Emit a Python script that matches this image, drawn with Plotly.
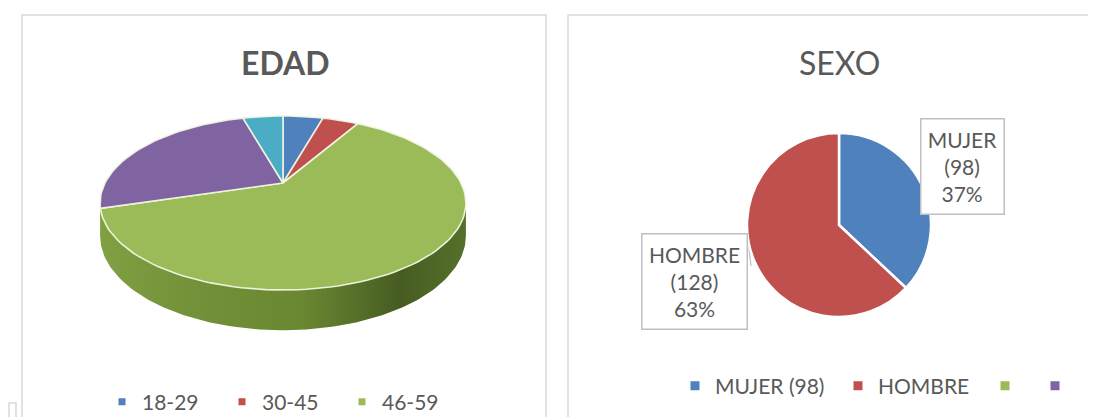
import numpy as np
import plotly.graph_objects as go

# ---------------- data ----------------
EDAD_LABELS = ["18-29", "30-45", "46-59", "60-74", "75+"]
EDAD_COUNTS = [10, 9, 140, 57, 10]
EDAD_COLORS = ["#4F81BD", "#C0504D", "#9BBB59", "#8064A2", "#4BACC6"]
EDAD_LEGEND_SHOWN = ["18-29", "30-45", "46-59"]

SEXO_LABELS = ["MUJER", "HOMBRE"]
SEXO_COUNTS = [98, 128]
SEXO_PCT = [37, 63]
SEXO_COLORS = ["#4F81BD", "#C0504D"]
SEXO_LEGEND = ["MUJER (98)", "HOMBRE", "", ""]
SEXO_LEGEND_COLORS = ["#4F81BD", "#C0504D", "#9BBB59", "#8064A2"]

# page body has an 8px margin: the figure is sized to fill the rest of the window
OFF = 8
SW, SH = 1096, 417               # window (screen) size
W, H = SW - OFF, SH - OFF        # figure size
FONT = "Lato"
TXT = "#595959"
GRID = "#D9D9D9"


def px_x(sx):   # screen x -> paper fraction
    return (sx - OFF) / W


def px_y(sy):   # screen y -> paper fraction
    return (SH - sy) / H


fig = go.Figure()

# ---------------- 3-D style pie (EDAD) ----------------
CX, CY = 283, 183          # apex of the pie on screen (px)
AX, BY, PERSP, DEPTH = 178, 82.4, 0.23, 31


def proj(theta_deg, drop=0.0):
    t = np.radians(theta_deg)
    X, Z = np.sin(t), np.cos(t)
    d = 1 + PERSP * Z
    return CX + AX * X / d, CY - BY * Z / d + drop / d


vals = np.array(EDAD_COUNTS, dtype=float)
cum = np.concatenate([[0], np.cumsum(vals)]) / vals.sum() * 360.0

# side wall (front part of the disc)
tR = np.degrees(np.arccos(-PERSP))
tL = 360 - tR
ts = np.linspace(tR, tL, 120)
xt, yt = proj(ts)
xb, yb = proj(ts[::-1], DEPTH)
fig.add_trace(go.Scatter(
    x=np.concatenate([xt, xb]), y=np.concatenate([yt, yb]),
    mode="lines", fill="toself", line=dict(width=0, color="#6d8c32"),
    fillgradient=dict(type="horizontal", colorscale=[
        [0.0, "#80a043"], [0.3, "#718f37"], [0.55, "#6a8831"],
        [0.82, "#465c22"], [1.0, "#56702b"]]),
    hoverinfo="skip", showlegend=False))

# top surface wedges
for lab, cnt, col, a0, a1 in zip(EDAD_LABELS, EDAD_COUNTS, EDAD_COLORS, cum[:-1], cum[1:]):
    ang = np.linspace(a0, a1, max(4, int((a1 - a0) / 2)))
    px, py = proj(ang)
    fig.add_trace(go.Scatter(
        x=np.concatenate([[CX], px, [CX]]), y=np.concatenate([[CY], py, [CY]]),
        mode="lines", fill="toself", fillcolor=col,
        line=dict(color="rgba(240,246,225,0.95)", width=1.6),
        name=lab, hovertemplate=f"{lab}: {cnt}<extra></extra>", showlegend=False))

# legend entries (EDAD)
for lab, col in zip(EDAD_LABELS, EDAD_COLORS):
    if lab in EDAD_LEGEND_SHOWN:
        fig.add_trace(go.Scatter(
            x=[None], y=[None], mode="markers", name=lab,
            marker=dict(symbol="square", size=7, color=col),
            legend="legend", showlegend=True))

# ---------------- flat pie (SEXO) ----------------
PCX, PCY, PR = 839, 225, 92
fig.add_trace(go.Pie(
    labels=SEXO_LABELS, values=SEXO_PCT, customdata=SEXO_COUNTS,
    marker=dict(colors=SEXO_COLORS, line=dict(color="white", width=2.5)),
    sort=False, direction="clockwise", rotation=0,
    textinfo="none", showlegend=False,
    hovertemplate="%{label} (%{customdata})<br>%{value}%<extra></extra>",
    domain=dict(x=[px_x(PCX - PR), px_x(PCX + PR)],
                y=[px_y(PCY + PR), px_y(PCY - PR)])))

# legend entries (SEXO) - one small legend per entry so each can be placed
SEXO_LEGEND_X = [675, 838, 985, 1035]
legend_layouts = {}
for k, (lab, col, lx) in enumerate(zip(SEXO_LEGEND, SEXO_LEGEND_COLORS, SEXO_LEGEND_X)):
    lname = f"legend{k + 2}"
    fig.add_trace(go.Scatter(
        x=[None], y=[None], mode="markers", name=lab,
        marker=dict(symbol="square", size=9, color=col),
        legend=lname, showlegend=True))
    legend_layouts[lname] = dict(
        orientation="h", x=px_x(lx), y=px_y(386), xanchor="left", yanchor="middle",
        font=dict(size=21, color=TXT, family=FONT),
        bgcolor="rgba(0,0,0,0)", itemclick=False)

# ---------------- annotations ----------------
ann = [
    dict(x=285, y=62, text="<b>EDAD</b>", font=dict(size=32, color=TXT, family=FONT)),
    dict(x=839, y=62, text="SEXO", font=dict(size=32, color=TXT, family=FONT)),
]
callouts = [(962.5, 166.5, 0), (694, 281, 1)]
for x, y, i in callouts:
    ann.append(dict(
        x=x, y=y,
        text=f"{SEXO_LABELS[i]}<br>({SEXO_COUNTS[i]})<br>{SEXO_PCT[i]}%",
        font=dict(size=21, color=TXT, family=FONT),
        bordercolor="#BFBFBF", borderwidth=1.5, bgcolor="white",
        width=[76, 98][i], height=88, borderpad=3, align="center"))
for a in ann:
    a.update(xref="x", yref="y", showarrow=False, xanchor="center", yanchor="middle")

shapes = [
    # panel frames
    dict(type="rect", x0=22, y0=15, x1=546, y1=425),
    dict(type="rect", x0=568, y0=15, x1=1110, y1=425),
    dict(type="rect", x0=9, y0=403, x1=16, y1=425),
    # callout leader lines
    dict(type="line", x0=921, y0=178, x1=925, y1=196),
    dict(type="line", x0=748, y0=241, x1=751, y1=266),
]
for s in shapes:
    s.update(xref="x", yref="y", line=dict(color=GRID, width=1.5), layer="below")
for s in shapes[3:]:
    s.update(line=dict(color="#BFBFBF", width=1.2))

fig.update_layout(
    width=W, height=H, margin=dict(l=0, r=0, t=0, b=0, autoexpand=False),
    paper_bgcolor="white", plot_bgcolor="white",
    xaxis=dict(range=[OFF, SW], visible=False, fixedrange=True),
    yaxis=dict(range=[SH, OFF], visible=False, fixedrange=True),
    annotations=ann, shapes=shapes,
    font=dict(family=FONT, color=TXT),
    legend=dict(orientation="h", x=px_x(102), y=px_y(402),
                xanchor="left", yanchor="middle",
                font=dict(size=21, color=TXT, family=FONT),
                entrywidth=75, entrywidthmode="pixels",
                bgcolor="rgba(0,0,0,0)", itemclick=False),
    hovermode="closest",
    **legend_layouts,
)

fig.write_html("out.html")
